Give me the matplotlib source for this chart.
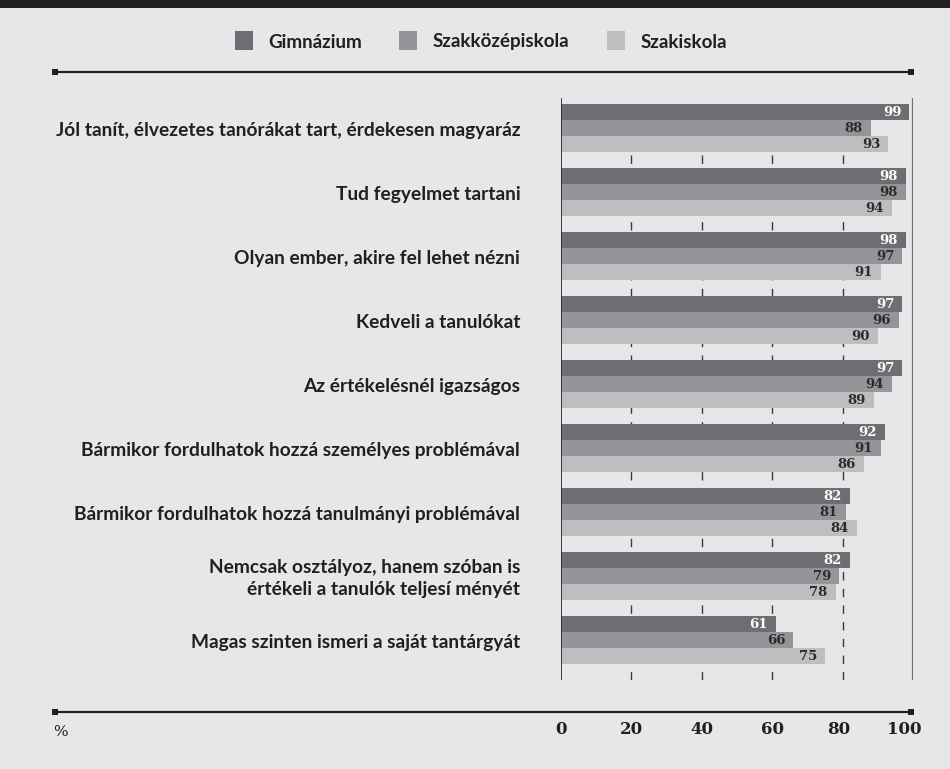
import matplotlib
matplotlib.use("Agg")
import matplotlib.pyplot as plt
from matplotlib.patches import Rectangle
import numpy as np

categories = [
    "Jól tanít, élvezetes tanórákat tart, érdekesen magyaráz",
    "Tud fegyelmet tartani",
    "Olyan ember, akire fel lehet nézni",
    "Kedveli a tanulókat",
    "Az értékelésnél igazságos",
    "Bármikor fordulhatok hozzá személyes problémával",
    "Bármikor fordulhatok hozzá tanulmányi problémával",
    "Nemcsak osztályoz, hanem szóban is\nértékeli a tanulók teljesí ményét",
    "Magas szinten ismeri a saját tantárgyát",
]
series_names = ["Gimnázium", "Szakközépiskola", "Szakiskola"]
gimnazium = [99, 98, 98, 97, 97, 92, 82, 82, 61]
szakkozep = [88, 98, 97, 96, 94, 91, 81, 79, 66]
szakiskola = [93, 94, 91, 90, 89, 86, 84, 78, 75]
tick_values = [0, 20, 40, 60, 80, 100]

colors = ["#6d6e71", "#939598", "#bcbec0"]
label_colors = ["#ffffff", "#2b2b2b", "#2b2b2b"]
bg = "#e6e7e8"
ink = "#231f20"

W, H = 950, 769
fig = plt.figure(figsize=(W / 100, H / 100), dpi=100)
fig.patch.set_facecolor(bg)

# dark band along the top edge
fig.add_artist(Rectangle((0, 1 - 8 / H), 1, 8 / H, transform=fig.transFigure,
                         facecolor=ink, edgecolor="none"))

def fx(px):
    return px / W

def fy(py):
    return 1 - py / H

# legend
leg_sq = [235, 399, 607]
leg_tx = [268, 433, 641]
for sx, tx, c, name in zip(leg_sq, leg_tx, colors, series_names):
    fig.add_artist(Rectangle((fx(sx), fy(50)), 18 / W, 19 / H, transform=fig.transFigure,
                             facecolor=c, edgecolor="none"))
    fig.text(fx(tx), fy(42), name, fontsize=13.5, fontweight="bold", family="Lato",
             color=ink, va="center", ha="left")

# horizontal rules with square end caps
for ry in (72, 712):
    fig.add_artist(plt.Line2D([fx(55), fx(911)], [fy(ry), fy(ry)], transform=fig.transFigure,
                              color=ink, lw=1.6))
    for ex in (55, 911):
        fig.add_artist(Rectangle((fx(ex - 3), fy(ry + 3)), 6 / W, 6 / H,
                                 transform=fig.transFigure, facecolor=ink, edgecolor="none"))

ax = fig.add_axes([fx(561), fy(680), (913 - 561) / W, (680 - 98) / H])
ax.set_facecolor("none")
ax.set_xlim(0, 100)
ax.set_ylim(35.5, -0.875)

n = len(categories)
base = np.arange(n) * 4.0
series = [gimnazium, szakkozep, szakiskola]

for x in tick_values[1:-1]:
    ax.axvline(x, color="#3a3a3a", lw=1.0, linestyle=(0, (6, 6)), zorder=0)

for k, (vals, c, lc) in enumerate(zip(series, colors, label_colors)):
    ypos = base + k
    ax.barh(ypos, vals, height=1.0, color=c, edgecolor="none", zorder=2)
    for y, v in zip(ypos, vals):
        ax.text(v - 2.3, y + 0.05, f"{v}", ha="right", va="center", fontsize=9.5,
                fontweight="bold", family="DejaVu Serif", color=lc, zorder=3)

ax.axvline(0, color=ink, lw=1.2, zorder=4)
ax.axvline(100, color="#6d6e71", lw=1.6, zorder=4)

for s in ax.spines.values():
    s.set_visible(False)
ax.set_xticks([])
ax.set_yticks([])

for y, cat in zip(base + 1, categories):
    ax.text(-11.6, y + 0.15, cat, ha="right", va="center", fontsize=13.8, fontweight="bold",
            family="Lato", color=ink, linespacing=1.4, transform=ax.transData)

# x tick labels under the lower rule
for t in tick_values:
    xpx = 561 + t * 3.52
    if t == 100:
        xpx = 904
    elif t == 80:
        xpx = 839
    fig.text(fx(xpx), fy(729), str(t), ha="center", va="center", fontsize=12,
             fontweight="bold", family="DejaVu Serif", color=ink)
fig.text(fx(53), fy(732), "%", ha="left", va="center", fontsize=11,
         family="DejaVu Serif", color=ink)

fig.savefig("out.png", dpi=100, facecolor=bg)
